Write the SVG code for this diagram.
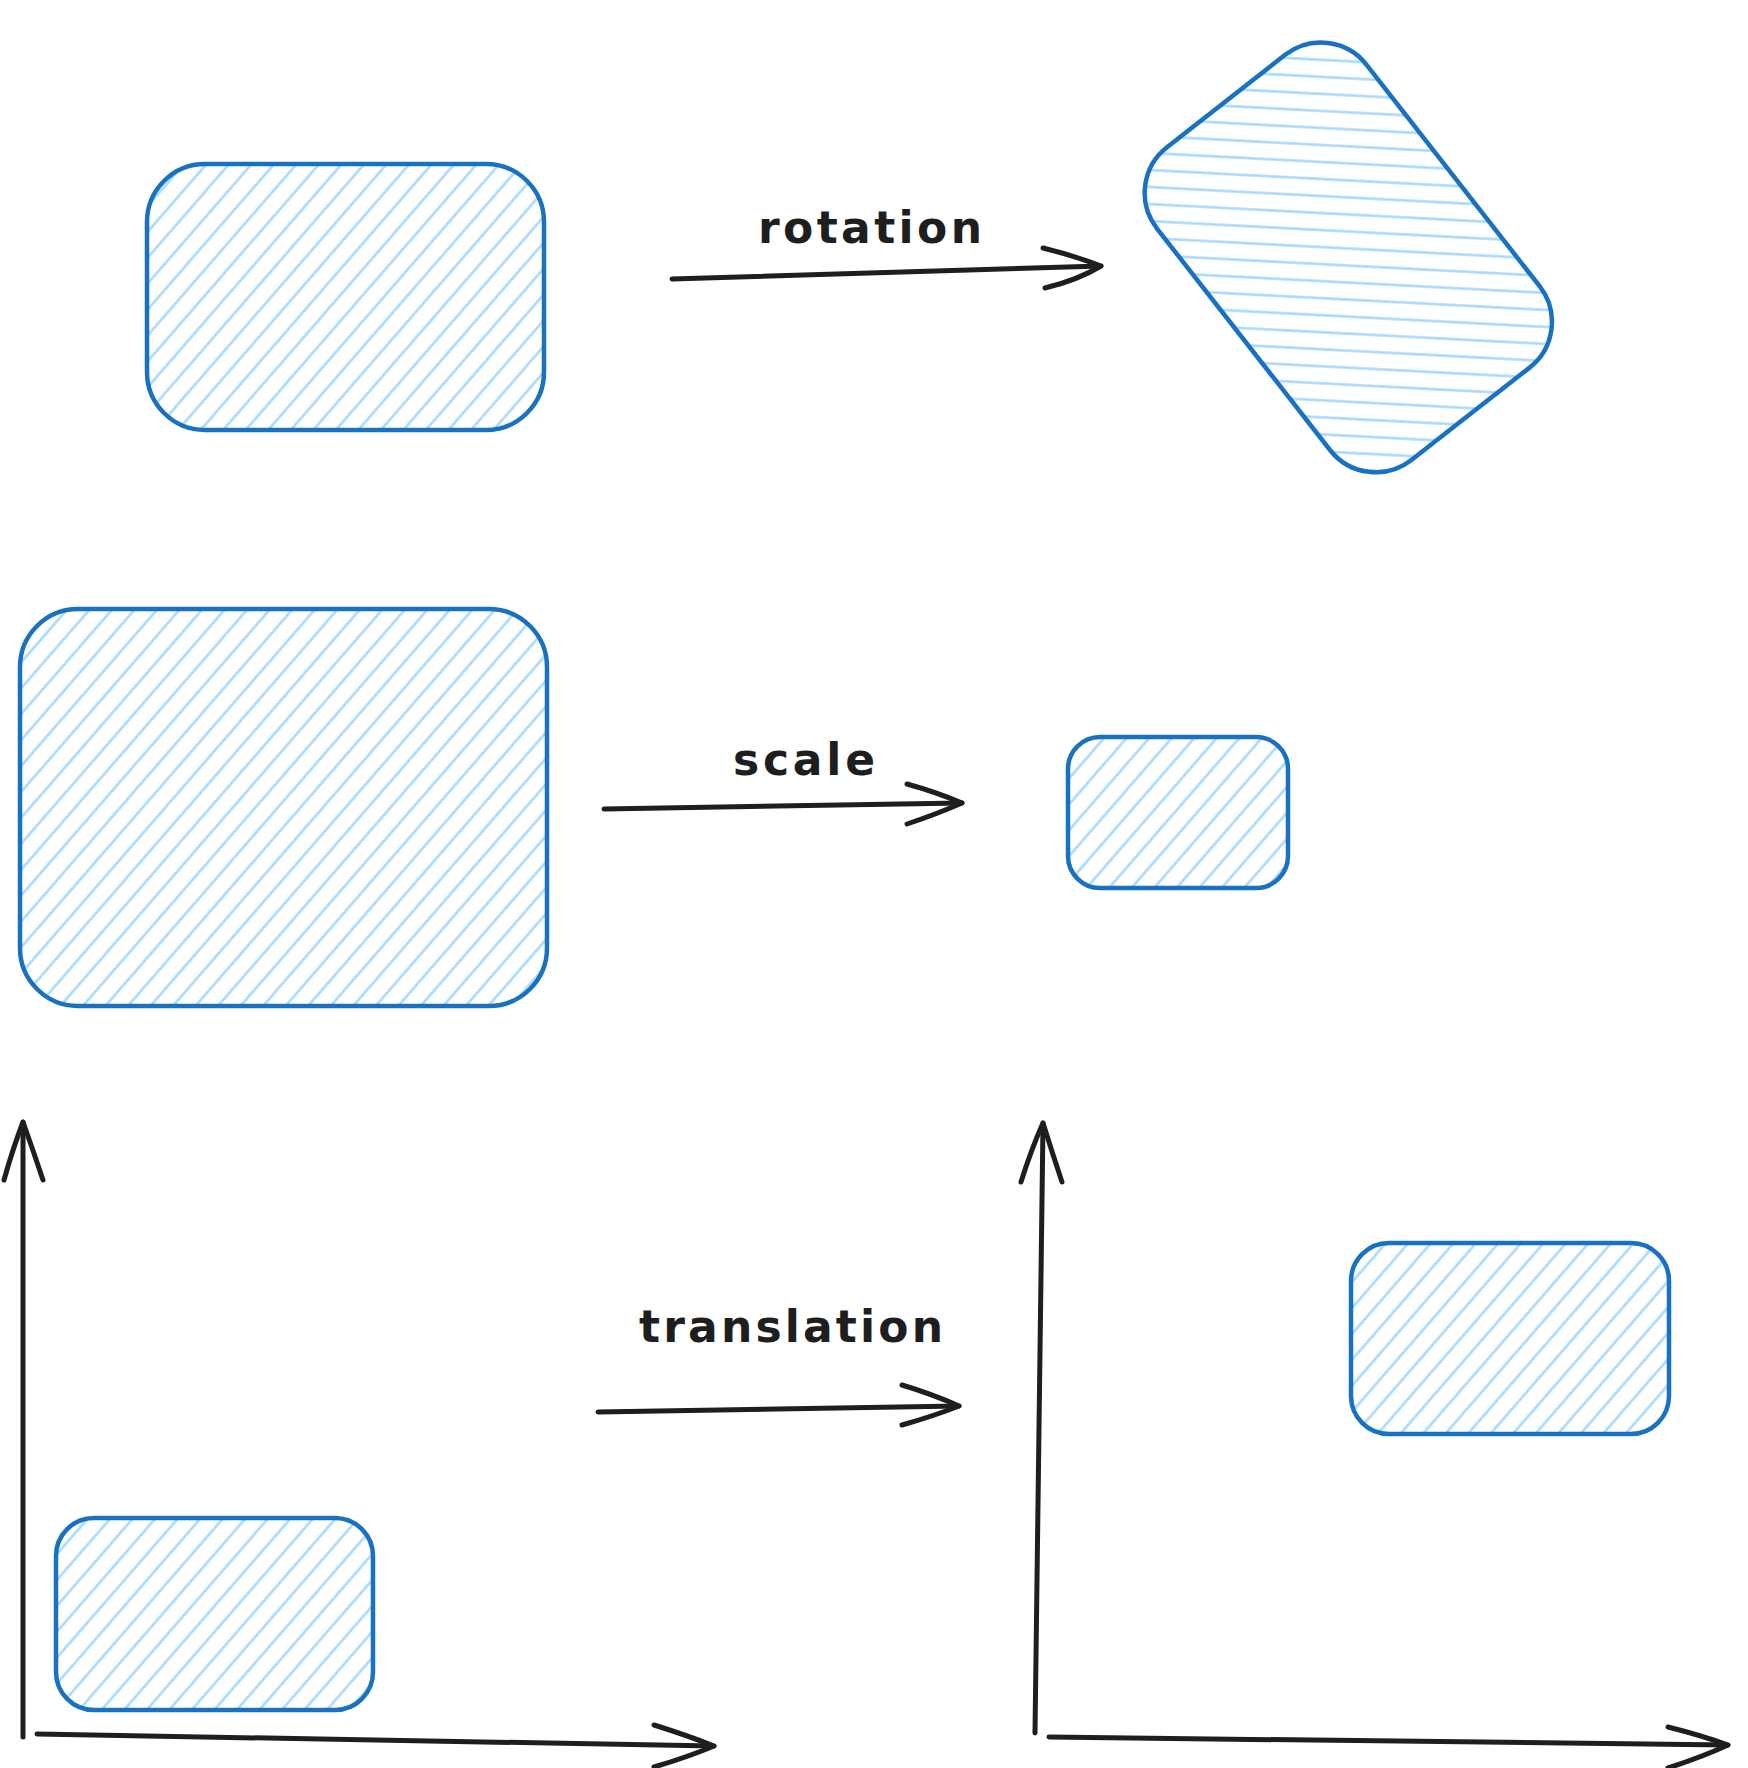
<svg xmlns="http://www.w3.org/2000/svg" width="1748" height="1768" viewBox="0 0 1748 1768">
  <style>
    .shape { fill: url(#hatch); stroke: #1971c2; stroke-width: 4.5; }
    .conn { fill: none; stroke: #1e1e1e; stroke-width: 5; stroke-linecap: round; stroke-linejoin: round; }
    .label { font-family: "DejaVu Sans", "Liberation Sans", sans-serif; font-size: 44px; font-weight: bold; fill: #1e1e1e; }
  </style>
  <defs>
    <pattern id="hatch" patternUnits="userSpaceOnUse" width="17" height="17" patternTransform="rotate(-49)">
      <line x1="-2" y1="8.5" x2="19" y2="8.5" stroke="#a5d8ff" stroke-width="2.5"/>
    </pattern>
  </defs>
  <rect width="1748" height="1768" fill="#ffffff"/>

  <g id="rect-original">
    <rect class="shape" x="147" y="164" width="397" height="266" rx="58" ry="58"/>
  </g>
  <g id="rect-rotated" transform="translate(1348,257) rotate(52)">
    <rect class="shape" x="-198" y="-133" width="397" height="266" rx="58" ry="58"/>
  </g>
  <g id="rect-large">
    <rect class="shape" x="20" y="609" width="527" height="397" rx="58" ry="58"/>
  </g>
  <g id="rect-small">
    <rect class="shape" x="1068" y="737" width="220" height="151" rx="32" ry="32"/>
  </g>
  <g id="rect-before-translation">
    <rect class="shape" x="56" y="1518" width="317" height="192" rx="38" ry="38"/>
  </g>
  <g id="rect-after-translation">
    <rect class="shape" x="1351" y="1243" width="318" height="191" rx="38" ry="38"/>
  </g>

  <g id="labels">
    <text class="label" x="758" y="243" textLength="224" lengthAdjust="spacing">rotation</text>
    <text class="label" x="733" y="775" textLength="142" lengthAdjust="spacing">scale</text>
    <text class="label" x="639" y="1342" textLength="304" lengthAdjust="spacing">translation</text>
  </g>

  <g id="connectors">
    <!-- rotation arrow -->
    <path class="conn" d="M672 279 L1101 266"/>
    <path class="conn" d="M1043 248 Q1075 256 1101 266 Q1078 280 1045 288"/>
    <!-- scale arrow -->
    <path class="conn" d="M604 809 L962 803"/>
    <path class="conn" d="M907 784 Q936 792 962 803 Q937 814 907 824"/>
    <!-- translation arrow -->
    <path class="conn" d="M598 1412 L959 1406"/>
    <path class="conn" d="M902 1385 Q932 1394 959 1406 Q934 1416 902 1425"/>
    <!-- left axes -->
    <path class="conn" d="M23 1737 L23 1122"/>
    <path class="conn" d="M4 1180 Q13 1148 23 1122 Q33 1150 43 1180"/>
    <path class="conn" d="M37 1734 L714 1746"/>
    <path class="conn" d="M654 1725 Q686 1735 714 1746 Q688 1757 654 1767"/>
    <!-- right axes -->
    <path class="conn" d="M1035 1733 L1043 1123"/>
    <path class="conn" d="M1021 1182 Q1031 1150 1043 1123 Q1052 1152 1062 1182"/>
    <path class="conn" d="M1049 1737 L1728 1745"/>
    <path class="conn" d="M1668 1727 Q1700 1735 1728 1745 Q1702 1757 1668 1768"/>
  </g>
</svg>
